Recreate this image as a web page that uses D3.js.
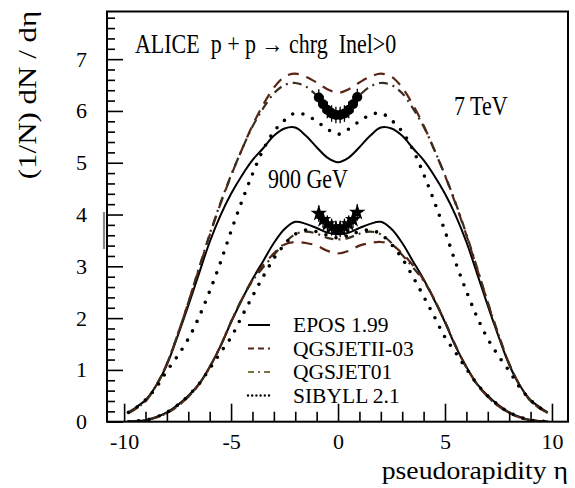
<!DOCTYPE html>
<html><head><meta charset="utf-8">
<script src="https://cdn.jsdelivr.net/npm/d3@7"></script>
<style>
body{margin:0;background:#fff}
svg{display:block;background:#fff}
text{font-family:"Liberation Serif","Times New Roman",serif;fill:#000}
</style>
</head><body>
<svg id="c" width="575" height="488"></svg>
<script>
// ---- data ----
const eta = [-9.8,-9.5,-9,-8.5,-8,-7.5,-7,-6.5,-6,-5.5,-5,-4.5,-4,-3.5,-3,-2.5,-2,-1.5,-1,-0.5,0,0.5,1,1.5,2,2.5,3,3.5,4,4.5,5,5.5,6,6.5,7,7.5,8,8.5,9,9.5,9.8];
// 7 TeV
const epos7   = [0.18,0.26,0.42,0.70,1.10,1.65,2.24,2.86,3.47,3.98,4.40,4.75,5.05,5.28,5.52,5.66,5.68,5.52,5.30,5.10,5.01,5.10,5.30,5.52,5.68,5.66,5.52,5.28,5.05,4.75,4.40,3.98,3.47,2.86,2.24,1.65,1.10,0.70,0.42,0.26,0.18];
const qgsII7  = [0.17,0.24,0.40,0.70,1.12,1.68,2.30,2.95,3.60,4.20,4.75,5.25,5.72,6.12,6.45,6.66,6.72,6.66,6.55,6.42,6.35,6.42,6.55,6.66,6.72,6.66,6.45,6.12,5.72,5.25,4.75,4.20,3.60,2.95,2.30,1.68,1.12,0.70,0.40,0.24,0.17];
const qgs01_7 = [0.17,0.24,0.40,0.70,1.12,1.68,2.30,2.97,3.62,4.22,4.76,5.25,5.70,6.05,6.34,6.50,6.54,6.47,6.30,6.10,6.00,6.10,6.30,6.47,6.54,6.50,6.34,6.05,5.70,5.25,4.76,4.22,3.62,2.97,2.30,1.68,1.12,0.70,0.40,0.24,0.17];
const sib7    = [0.18,0.25,0.42,0.66,0.98,1.27,1.60,2.02,2.52,3.07,3.68,4.25,4.78,5.25,5.60,5.82,5.96,5.92,5.80,5.65,5.55,5.65,5.80,5.92,5.96,5.82,5.60,5.25,4.78,4.25,3.68,3.07,2.52,2.02,1.60,1.27,0.98,0.66,0.42,0.25,0.18];
// 900 GeV
const epos09   = [0.00,0.01,0.03,0.09,0.18,0.32,0.50,0.73,1.06,1.45,1.92,2.35,2.75,3.10,3.45,3.72,3.86,3.82,3.74,3.65,3.62,3.65,3.74,3.82,3.86,3.72,3.45,3.10,2.75,2.35,1.92,1.45,1.06,0.73,0.50,0.32,0.18,0.09,0.03,0.01,0.00];
const qgsII09  = [0.00,0.01,0.03,0.08,0.17,0.30,0.48,0.72,1.05,1.46,1.93,2.36,2.74,3.02,3.25,3.42,3.47,3.45,3.40,3.30,3.25,3.30,3.40,3.45,3.47,3.42,3.25,3.02,2.74,2.36,1.93,1.46,1.05,0.72,0.48,0.30,0.17,0.08,0.03,0.01,0.00];
const qgs01_09 = [0.00,0.01,0.03,0.08,0.17,0.30,0.48,0.72,1.05,1.46,1.93,2.36,2.72,2.98,3.22,3.45,3.62,3.67,3.63,3.55,3.52,3.55,3.63,3.67,3.62,3.45,3.22,2.98,2.72,2.36,1.93,1.46,1.05,0.72,0.48,0.30,0.17,0.08,0.03,0.01,0.00];
const sib09    = [0.00,0.01,0.03,0.09,0.18,0.32,0.50,0.73,1.02,1.33,1.63,2.03,2.42,2.80,3.15,3.42,3.62,3.70,3.67,3.60,3.55,3.60,3.67,3.70,3.62,3.42,3.15,2.80,2.42,2.03,1.63,1.33,1.02,0.73,0.50,0.32,0.18,0.09,0.03,0.01,0.00];
// ALICE data
const dataEta  = [-0.9,-0.7,-0.5,-0.3,-0.1,0.1,0.3,0.5,0.7,0.9];
const alice7   = [6.26,6.13,6.02,5.95,5.92,5.92,5.95,6.02,6.13,6.27];
const alice09  = [4.02,3.90,3.82,3.76,3.72,3.72,3.76,3.82,3.90,4.04];
const dataErr  = 0.16;
// axes
const xTicks = [-10,-5,0,5,10];
const yTicks = [0,1,2,3,4,5,6,7];
const modelNames = ["EPOS 1.99","QGSJETII-03","QGSJET01","SIBYLL 2.1"];

// ---- drawing ----
const svg = d3.select("#c");
const L=107, R=568, T=11.5, B=421.7;
const x = d3.scaleLinear().domain([-10.8,10.75]).range([L,R]);
const y = d3.scaleLinear().domain([0,7.92]).range([B,T]);

svg.append("defs").append("clipPath").attr("id","clip")
  .append("rect").attr("x",L).attr("y",T).attr("width",R-L).attr("height",B-T);

const styles = [
  {color:"#000", width:2, dash:null, cap:"butt", lcolor:"#000", ldash:null},
  {color:"#5a2416", width:2.2, dash:"11,8", cap:"butt", lcolor:"#5a2416", ldash:"6,4"},
  {color:"#3a2e1c", width:2.2, dash:"9,5,2,5", cap:"butt", lcolor:"#77733c", ldash:"6,4,2,4"},
  {color:"#000", width:3.6, dash:"0,10.5", cap:"round", lcolor:"#000", ldash:"0,4.2", lwidth:2.4}
];
const series = [[epos7,qgsII7,qgs01_7,sib7],[epos09,qgsII09,qgs01_09,sib09]];

const line = d3.line().x((d,i)=>x(eta[i])).y(d=>y(d)).curve(d3.curveCatmullRom.alpha(0.5));
const gl = svg.append("g").attr("clip-path","url(#clip)");
series.forEach(set=>{
  set.forEach((vals,k)=>{
    const s = styles[k];
    gl.append("path").attr("d",line(vals)).attr("fill","none")
      .attr("stroke",s.color).attr("stroke-width",s.width)
      .attr("stroke-dasharray",s.dash).attr("stroke-linecap",s.cap);
  });
});

// data points
const gd = svg.append("g");
dataEta.forEach((e,i)=>{
  gd.append("line").attr("x1",x(e)).attr("x2",x(e))
    .attr("y1",y(alice7[i]-dataErr)).attr("y2",y(alice7[i]+dataErr)).attr("stroke","#000").attr("stroke-width",1.3);
  gd.append("line").attr("x1",x(e)).attr("x2",x(e))
    .attr("y1",y(alice09[i]-dataErr)).attr("y2",y(alice09[i]+dataErr)).attr("stroke","#000").attr("stroke-width",1.3);
});
gd.selectAll("circle.d7").data(dataEta).enter().append("circle")
  .attr("cx",d=>x(d)).attr("cy",(d,i)=>y(alice7[i])).attr("r",5).attr("fill","#000");
const star = d3.symbol().type(d3.symbolStar).size(85);
gd.selectAll("path.d09").data(dataEta).enter().append("path")
  .attr("d",star).attr("fill","#000")
  .attr("transform",(d,i)=>`translate(${x(d)},${y(alice09[i])})`);

// axes
const gy = svg.append("g").attr("transform",`translate(${L},0)`);
gy.call(d3.axisLeft(y).tickValues(yTicks).tickSize(-16).tickPadding(20).tickFormat(d=>String(d)));
const gym = svg.append("g").attr("transform",`translate(${L},0)`);
gym.call(d3.axisLeft(y).tickValues(d3.range(0,7.85,0.2).filter(v=>Math.abs(v-Math.round(v))>0.01)).tickSize(-8).tickFormat(""));
const gx = svg.append("g").attr("transform",`translate(0,${B})`);
gx.call(d3.axisBottom(x).tickValues(xTicks).tickSize(-18).tickPadding(12).tickFormat(d=>String(d)));
const gxm = svg.append("g").attr("transform",`translate(0,${B})`);
gxm.call(d3.axisBottom(x).tickValues(d3.range(-10,10.5,1).filter(v=>v%5!==0)).tickSize(-10).tickFormat(""));
[gy,gym,gx,gxm].forEach(g=>{
  g.attr("font-family",null);
  g.select(".domain").remove();
  g.selectAll(".tick line").attr("stroke","#000").attr("stroke-width",1.6);
  g.selectAll("text").style("font-family",'"Liberation Serif",serif').style("font-size","22px").attr("fill","#000");
});

// frame
svg.append("rect").attr("x",L).attr("y",T).attr("width",R-L).attr("height",B-T)
  .attr("fill","none").attr("stroke","#000").attr("stroke-width",2);
// small grey mark left of the axis
svg.append("line").attr("x1",104).attr("x2",104).attr("y1",212).attr("y2",249)
  .attr("stroke","#8a8a8a").attr("stroke-width",2.2);

// texts
function stext(str,xx,yy,fs,sx,sy,anchor,rot){
  const t = svg.append("text").text(str).attr("text-anchor",anchor||"start")
    .style("font-size",fs+"px").style("white-space","pre").attr("xml:space","preserve")
    .attr("transform",`translate(${xx},${yy})${rot?` rotate(${rot})`:""} scale(${sx},${sy})`);
  return t;
}
stext("ALICE  p + p \u2192 chrg  Inel>0",135,53,22,1,1.22);
stext("7 TeV",454,115,22,1,1.22);
stext("900 GeV",268,188,22,1,1.22);
stext("(1/N) dN / d\u03b7",36,95,25,1.24,1,"middle",-90);
stext("pseudorapidity \u03b7",568,479,25,1.11,1,"end");

// legend
const lg = svg.append("g");
modelNames.forEach((n,k)=>{
  const base = 332 + k*23.5;
  const s = styles[k];
  lg.append("line").attr("x1",248).attr("x2",270).attr("y1",base-7).attr("y2",base-7)
    .attr("stroke",s.lcolor).attr("stroke-width",s.lwidth||2)
    .attr("stroke-dasharray",s.ldash).attr("stroke-linecap",s.cap);
  stext(n,293,base,20.5,1.05,1);
});
</script>
</body></html>
